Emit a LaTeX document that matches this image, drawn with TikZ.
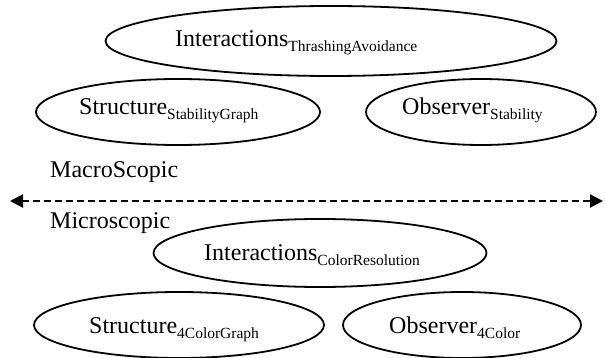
\documentclass[tikz,border=0pt]{standalone}
\usepackage{fontspec}
\setmainfont{Liberation Serif}
\usetikzlibrary{shapes.geometric,arrows.meta}

\newcommand{\mainsz}{\fontsize{24}{24}\selectfont}
\newcommand{\subsz}{\fontsize{15.5}{15.5}\selectfont}
\newcommand{\sublabel}[2]{{\mainsz #1}\raisebox{-5pt}{\subsz #2}}

\tikzset{
  oval/.style={ellipse, draw=black, line width=1.8pt, inner sep=0pt},
  lbl/.style={anchor=base west, inner sep=0pt, text=black},
  scaleline/.style={line width=2.2pt, dash pattern=on 7pt off 4pt,
    {Triangle[length=13pt,width=13pt]}-{Triangle[length=13pt,width=13pt]}}
}

\begin{document}
\begin{tikzpicture}[x=1pt,y=-1pt]
  \clip (0,0) rectangle (605,358);
  \fill[white] (0,0) rectangle (605,358);

  % macroscopic level
  \node[oval, minimum width=451pt, minimum height=70pt] (iThr) at (331,41) {};
  \node[lbl] (iThrTxt) at (175,47) {\sublabel{Interactions}{ThrashingAvoidance}};
  \node[oval, minimum width=284pt, minimum height=66pt] (sStab) at (178,112) {};
  \node[lbl] (sStabTxt) at (79,115) {\sublabel{Structure}{StabilityGraph}};
  \node[oval, minimum width=230pt, minimum height=66pt] (oStab) at (481,112) {};
  \node[lbl] (oStabTxt) at (402,115) {\sublabel{Observer}{Stability}};

  \node[lbl] (macro) at (50,178) {\mainsz MacroScopic};

  % level separator
  \coordinate (sepL) at (10,201);
  \coordinate (sepR) at (603,201);
  \draw[scaleline] (sepL) -- (sepR);

  \node[lbl] (micro) at (50,229) {\mainsz Microscopic};

  % microscopic level
  \node[oval, minimum width=333pt, minimum height=68pt] (iCol) at (320,253) {};
  \node[lbl] (iColTxt) at (204,261) {\sublabel{Interactions}{ColorResolution}};
  \node[oval, minimum width=290pt, minimum height=66pt] (s4c) at (179,325) {};
  \node[lbl] (s4cTxt) at (89,333) {\sublabel{Structure}{4ColorGraph}};
  \node[oval, minimum width=238pt, minimum height=66pt] (o4c) at (462,325) {};
  \node[lbl] (o4cTxt) at (389,333) {\sublabel{Observer}{4Color}};
\end{tikzpicture}
\end{document}
